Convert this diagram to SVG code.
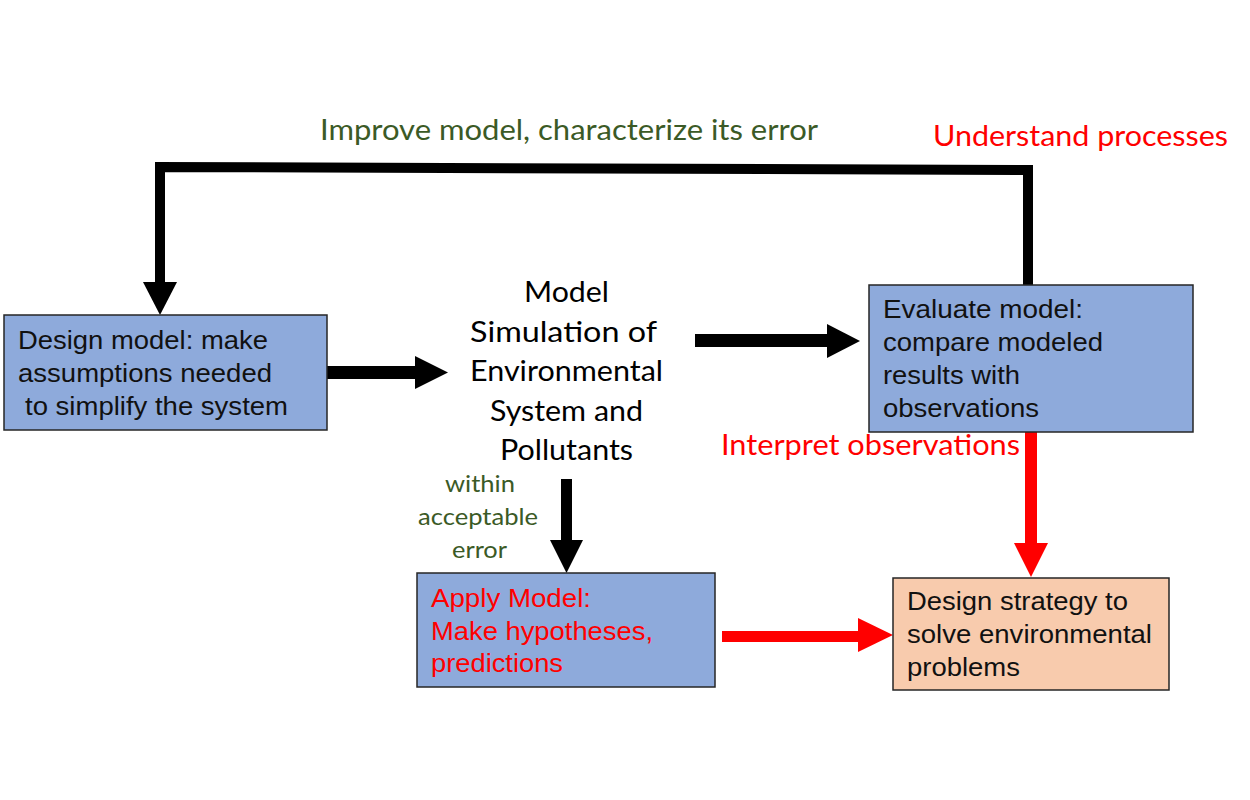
<svg xmlns="http://www.w3.org/2000/svg" width="1250" height="800" viewBox="0 0 1250 800">
<style>
.box{stroke:#262626;stroke-width:1.5}
.blue{fill:#8EAADB}
.peach{fill:#F8CBAD}
.bt{font-family:"Liberation Sans",Arial,sans-serif;font-size:25px;fill:#111}
.red{fill:#FF0000}
.cal{font-family:Lato,"Open Sans",sans-serif;font-size:29px}
.sm{font-size:23px}
.green{fill:#3B5A26}
.bk{fill:#000}
.rd{fill:#FF0000}
</style>
<rect width="1250" height="800" fill="#fff"/>
<g id="connectors">
  <path d="M160,284 L160,167 L1028,170 L1028,286" fill="none" stroke="#000" stroke-width="10" stroke-linejoin="miter"/>
  <polygon class="bk" points="143,282 177,282 160,315"/>
  <rect class="bk" x="327" y="366" width="90" height="13"/>
  <polygon class="bk" points="415,356 448,372.5 415,389"/>
  <rect class="bk" x="695" y="334" width="134" height="13"/>
  <polygon class="bk" points="827,324 860,341 827,358"/>
  <rect class="bk" x="561" y="479" width="11" height="63"/>
  <polygon class="bk" points="550,540 583,540 566.5,573"/>
  <rect class="rd" x="1025" y="432" width="12" height="113"/>
  <polygon class="rd" points="1014,543 1048,543 1031,577"/>
  <rect class="rd" x="722" y="631" width="138" height="11"/>
  <polygon class="rd" points="858,618 893,635 858,652"/>
</g>
<g id="design-model">
  <rect class="box blue" x="4" y="315" width="323" height="115"/>
  <text class="bt" x="18" y="349" textLength="250" lengthAdjust="spacingAndGlyphs">Design model: make</text>
  <text class="bt" x="18" y="382" textLength="254" lengthAdjust="spacingAndGlyphs">assumptions needed</text>
  <text class="bt" x="25" y="415" textLength="263" lengthAdjust="spacingAndGlyphs">to simplify the system</text>
</g>
<g id="simulation">
  <text class="cal" fill="#000" x="524" y="302" textLength="85" lengthAdjust="spacingAndGlyphs">Model</text>
  <text class="cal" fill="#000" x="470" y="342" textLength="187" lengthAdjust="spacingAndGlyphs">Simulation of</text>
  <text class="cal" fill="#000" x="470" y="381" textLength="193" lengthAdjust="spacingAndGlyphs">Environmental</text>
  <text class="cal" fill="#000" x="490" y="421" textLength="153" lengthAdjust="spacingAndGlyphs">System and</text>
  <text class="cal" fill="#000" x="500" y="460" textLength="133" lengthAdjust="spacingAndGlyphs">Pollutants</text>
</g>
<g id="evaluate-model">
  <rect class="box blue" x="869" y="285" width="324" height="147"/>
  <text class="bt" x="883" y="318" textLength="200" lengthAdjust="spacingAndGlyphs">Evaluate model:</text>
  <text class="bt" x="883" y="351" textLength="220" lengthAdjust="spacingAndGlyphs">compare modeled</text>
  <text class="bt" x="883" y="384" textLength="137" lengthAdjust="spacingAndGlyphs">results with</text>
  <text class="bt" x="883" y="417" textLength="156" lengthAdjust="spacingAndGlyphs">observations</text>
</g>
<g id="apply-model">
  <rect class="box blue" x="417" y="573" width="298" height="114"/>
  <text class="bt red" x="431" y="607" textLength="160" lengthAdjust="spacingAndGlyphs">Apply Model:</text>
  <text class="bt red" x="431" y="640" textLength="222" lengthAdjust="spacingAndGlyphs">Make hypotheses,</text>
  <text class="bt red" x="431" y="672" textLength="132" lengthAdjust="spacingAndGlyphs">predictions</text>
</g>
<g id="design-strategy">
  <rect class="box peach" x="893" y="578" width="276" height="112"/>
  <text class="bt" x="907" y="610" textLength="221" lengthAdjust="spacingAndGlyphs">Design strategy to</text>
  <text class="bt" x="907" y="643" textLength="245" lengthAdjust="spacingAndGlyphs">solve environmental</text>
  <text class="bt" x="907" y="676" textLength="113" lengthAdjust="spacingAndGlyphs">problems</text>
</g>
<g id="labels">
  <text class="cal green" x="320" y="140" textLength="498" lengthAdjust="spacingAndGlyphs">Improve model, characterize its error</text>
  <text class="cal" fill="#FF0000" x="933" y="146" textLength="295" lengthAdjust="spacingAndGlyphs">Understand processes</text>
  <text class="cal" fill="#FF0000" x="721" y="455" textLength="299" lengthAdjust="spacingAndGlyphs">Interpret observations</text>
  <text class="cal sm green" x="445" y="492" textLength="70" lengthAdjust="spacingAndGlyphs">within</text>
  <text class="cal sm green" x="418" y="525" textLength="120" lengthAdjust="spacingAndGlyphs">acceptable</text>
  <text class="cal sm green" x="452" y="558" textLength="55" lengthAdjust="spacingAndGlyphs">error</text>
</g>
</svg>
